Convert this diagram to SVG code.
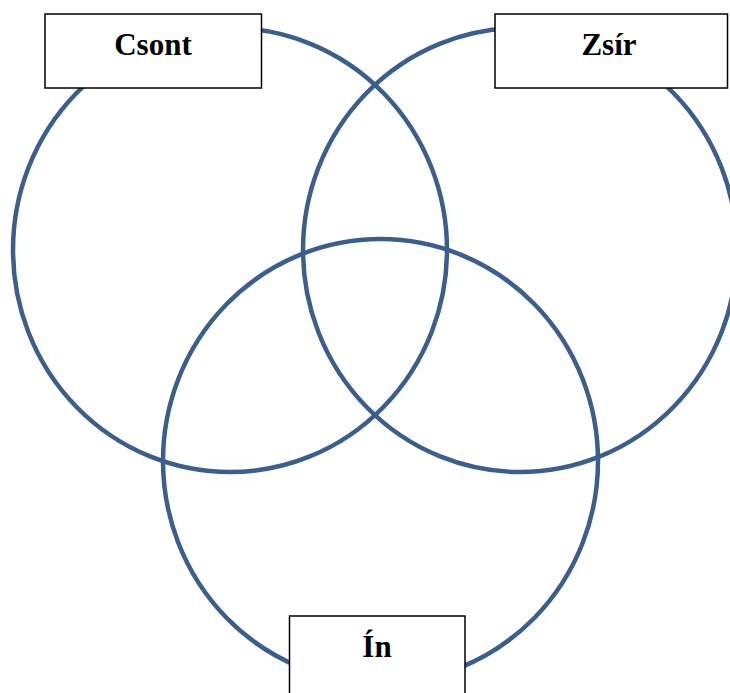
<svg xmlns="http://www.w3.org/2000/svg" width="730" height="693" viewBox="0 0 730 693">
<style>
.ring{fill:none;stroke:#3B5E8C;stroke-width:4.5}
.box{fill:#ffffff;stroke:#000000;stroke-width:1.5}
.lbl{font-family:"Liberation Serif","Times New Roman",serif;font-weight:bold;font-size:31px;fill:#000000;text-anchor:middle}
</style>
<rect width="730" height="693" fill="#ffffff"/>
<g id="connectors"></g>
<g id="circles">
<ellipse id="c-csont" class="ring" cx="230" cy="250" rx="217" ry="222"/>
<ellipse id="c-zsir" class="ring" cx="520" cy="250" rx="217" ry="222"/>
<ellipse id="c-in" class="ring" cx="380.5" cy="461" rx="217.5" ry="222"/>
</g>
<g id="node-csont">
<rect class="box" x="45" y="14" width="216.5" height="74"/>
<text class="lbl" x="153" y="55">Csont</text>
</g>
<g id="node-zsir">
<rect class="box" x="495" y="14" width="232.5" height="74"/>
<text class="lbl" x="609" y="55">Zsír</text>
</g>
<g id="node-in">
<rect class="box" x="289.5" y="616" width="175.5" height="90"/>
<text class="lbl" x="377" y="657">Ín</text>
</g>
</svg>
